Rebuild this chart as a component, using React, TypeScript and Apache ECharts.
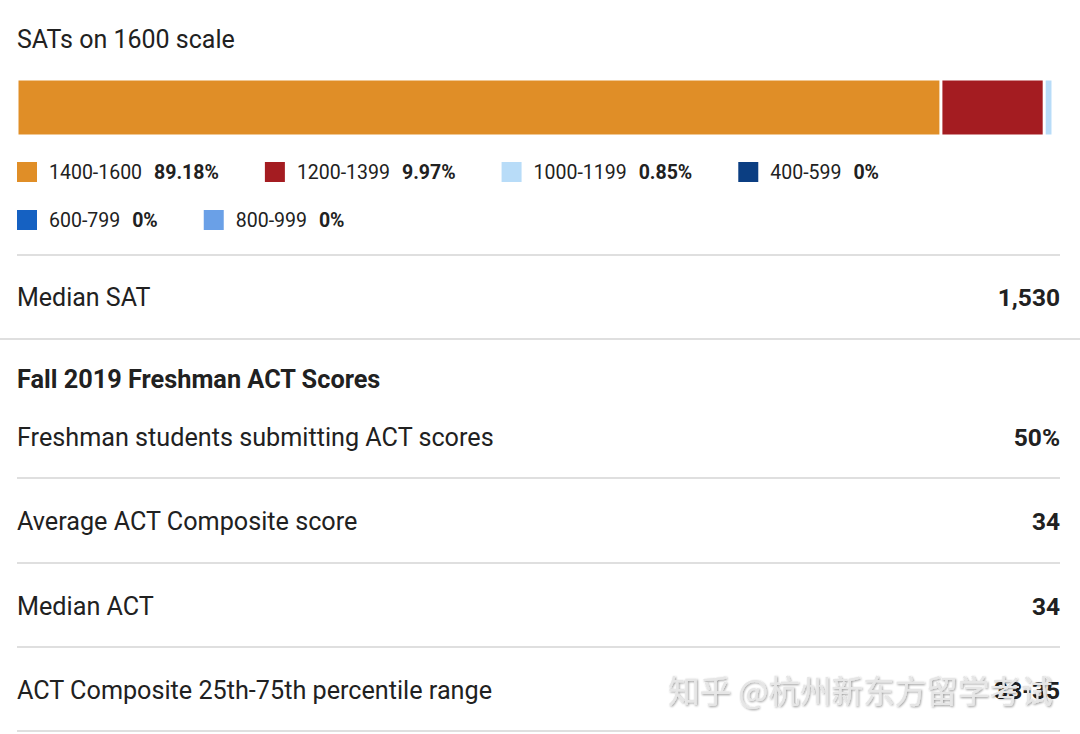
import React, { useEffect, useRef } from "react";
import * as echarts from "echarts";

const title = "SATs on 1600 scale";
const categories = ["1400-1600", "1200-1399", "1000-1199", "400-599", "600-799", "800-999"];
const shares = [89.18, 9.97, 0.85, 0, 0, 0];
const colors = ["#E08E27", "#A41C21", "#B8DCF8", "#0B3E82", "#1561C2", "#6AA0E7"];
const legendRow1 = categories.slice(0, 4);
const legendRow2 = categories.slice(4);

const medianLabel = "Median SAT";
const medianValue = "1,530";
const actHeader = "Fall 2019 Freshman ACT Scores";
const actLabels = [
  "Freshman students submitting ACT scores",
  "Average ACT Composite score",
  "Median ACT",
  "ACT Composite 25th-75th percentile range",
];
const actValues = ["50%", "34", "34", "33-35"];
const watermark = "知乎 @杭州新东方留学考试";

const FONT = "Roboto, 'Noto Sans', sans-serif";
const TXT = "#212121";

export default function App() {
  const ref = useRef<HTMLDivElement>(null);
  useEffect(() => {
    if (!ref.current) return;
    const chart = echarts.init(ref.current, null, { renderer: "svg" });
    const shareOf: Record<string, number> = {};
    categories.forEach((c, i) => (shareOf[c] = shares[i]));

    const legendBase = {
      orient: "horizontal",
      left: 17,
      padding: 0,
      itemGap: 46,
      itemWidth: 20,
      itemHeight: 20,
      icon: "rect",
      selectedMode: false,
      itemStyle: { borderWidth: 0 },
      formatter: (name: string) => `{n|${name}}{v|${shareOf[name]}%}`,
      textStyle: {
        rich: {
          n: { fontFamily: FONT, fontSize: 19.5, color: TXT, padding: [0, 12, 0, 7] },
          v: { fontFamily: FONT, fontSize: 19.5, color: TXT, fontWeight: "bold" },
        },
      },
    };

    const rowYs = [437, 521, 606, 690];
    const rowLines = [478, 563, 647, 731];
    const graphics: any[] = [];
    const addText = (text: string, x: number, y: number, size: number, bold: boolean, align: string) => {
      graphics.push({
        type: "text",
        x,
        y,
        style: {
          text,
          fontFamily: FONT,
          fontSize: size,
          fontWeight: bold ? "bold" : "normal",
          fill: TXT,
          align,
          verticalAlign: "middle",
        },
      });
    };
    const addLine = (y: number, x1: number, x2: number) => {
      graphics.push({
        type: "line",
        shape: { x1, y1: y, x2, y2: y },
        style: { stroke: "#d4d4d4", lineWidth: 1.6 },
      });
    };
    addText(title, 17, 39, 25, false, "left");
    addLine(255, 17, 1060);
    addText(medianLabel, 17, 297, 25, false, "left");
    addText(medianValue, 1060, 297, 24.5, true, "right");
    addLine(339, 0, 1080);
    addText(actHeader, 17, 379, 25.3, true, "left");
    actLabels.forEach((l, i) => {
      addText(l, 17, rowYs[i], 25.2, false, "left");
      addText(actValues[i], 1060, rowYs[i], 24.5, true, "right");
      addLine(rowLines[i], 17, 1060);
    });
    graphics.push({
      type: "text",
      x: 668,
      y: 689,
      style: {
        text: watermark,
        fontFamily: "'Noto Sans CJK SC', sans-serif",
        fontSize: 31.6,
        fill: "#e6e6e6",
        align: "left",
        verticalAlign: "middle",
        textShadowColor: "rgba(0,0,0,0.4)",
        textShadowBlur: 2,
        textShadowOffsetX: 1,
        textShadowOffsetY: 1,
      },
    });

    chart.setOption({
      animation: false,
      backgroundColor: "#ffffff",
      grid: { left: 17, right: 27, top: 79, height: 57 },
      xAxis: { type: "value", min: 0, max: 100, show: false },
      yAxis: { type: "category", data: ["SAT"], show: false },
      legend: [
        { ...legendBase, top: 162, data: legendRow1 },
        { ...legendBase, top: 210, data: legendRow2 },
      ],
      series: categories.map((c, i) => ({
        type: "bar",
        name: c,
        stack: "total",
        barWidth: 57,
        data: [shares[i]],
        itemStyle: { color: colors[i], borderColor: "#ffffff", borderWidth: shares[i] > 0 ? 1.5 : 0 },
        emphasis: { disabled: true },
      })),
      graphic: graphics,
    });
    return () => chart.dispose();
  }, []);
  return <div ref={ref} style={{ position: "fixed", left: 0, top: 0, width: 1080, height: 734 }} />;
}
